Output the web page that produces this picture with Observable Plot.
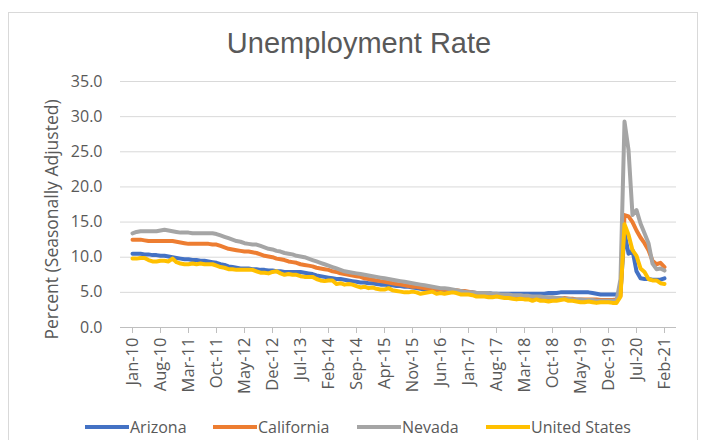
<!DOCTYPE html>
<html>
<head>
<meta charset="utf-8">
<script src="https://cdn.jsdelivr.net/npm/d3@7"></script>
<script src="https://cdn.jsdelivr.net/npm/@observablehq/plot@0.6"></script>
<style>
  body { margin: 0; background: #fff; font-family: "Open Sans", Arial, sans-serif; color: #595959; }
  #wrap { position: relative; width: 702px; height: 440px; overflow: hidden; }
  #frame { position: absolute; left: 8px; top: 12px; width: 690px; height: 440px; border: 1px solid #d9d9d9; box-sizing: border-box; }
  #title { position: absolute; left: 0; width: 718px; top: 29px; line-height: 29px; text-align: center; font-family: "Liberation Sans", Arial, sans-serif; font-size: 29px; color: #595959; }
  #chart { position: absolute; left: 0; top: 60px; }
  .leg { position: absolute; top: 415px; height: 24px; display: flex; align-items: center; font-size: 16px; color: #595959; }
  .leg span.sw { display: inline-block; width: 44px; height: 4px; margin-right: 1px; }
</style>
</head>
<body>
<div id="wrap">
  <div id="frame"></div>
  <div id="title">Unemployment Rate</div>
  <div id="chart"></div>
  <div id="legend"></div>
</div>
<script>
const seriesNames = ["Arizona", "California", "Nevada", "United States"];
const seriesColors = ["#4472C4", "#ED7D31", "#A5A5A5", "#FFC000"];
const yLabel = "Percent (Seasonally Adjusted)";

const tickLabels = ["Jan-10","Aug-10","Mar-11","Oct-11","May-12","Dec-12","Jul-13","Feb-14","Sep-14","Apr-15",
  "Nov-15","Jun-16","Jan-17","Aug-17","Mar-18","Oct-18","May-19","Dec-19","Jul-20","Feb-21"];
const yTicks = [0, 5, 10, 15, 20, 25, 30, 35];

// Months Jan-2010 .. Feb-2021 (category labels)
const months = d3.utcMonth.range(new Date(Date.UTC(2010, 0, 1)), new Date(Date.UTC(2021, 2, 1))).map(d3.utcFormat("%b-%y"));

const arizona = [
  10.5,10.5,10.5,10.4,10.4,10.3,10.3,10.2,10.2,10.1,10.0,9.9,
  9.8,9.7,9.7,9.6,9.6,9.5,9.5,9.4,9.3,9.2,9.0,8.9,
  8.7,8.6,8.5,8.4,8.4,8.4,8.3,8.3,8.2,8.2,8.1,8.1,
  8.0,8.0,7.9,7.9,7.9,7.9,7.9,7.8,7.7,7.6,7.4,7.3,
  7.2,7.1,7.0,6.9,6.9,6.8,6.7,6.6,6.5,6.4,6.4,6.3,
  6.3,6.2,6.1,6.1,6.0,6.0,5.9,5.9,5.8,5.8,5.7,5.6,
  5.5,5.4,5.3,5.3,5.2,5.2,5.2,5.1,5.1,5.0,5.0,5.0,
  5.0,5.0,4.9,4.9,4.9,4.9,4.8,4.8,4.8,4.8,4.8,4.8,
  4.8,4.8,4.8,4.8,4.8,4.8,4.8,4.8,4.9,4.9,4.9,5.0,
  5.0,5.0,5.0,5.0,5.0,5.0,5.0,4.9,4.8,4.7,4.7,4.7,
  4.7,4.7,5.0,13.5,10.5,11.0,8.0,7.0,6.9,6.9,6.8,6.8,
  6.8,7.0
];
const california = [
  12.5,12.5,12.5,12.4,12.3,12.3,12.3,12.3,12.3,12.3,12.3,12.2,
  12.1,12.0,11.9,11.9,11.9,11.9,11.9,11.9,11.8,11.8,11.6,11.4,
  11.2,11.1,11.0,10.9,10.8,10.8,10.7,10.6,10.4,10.2,10.1,10.0,
  9.8,9.7,9.6,9.4,9.3,9.2,9.0,8.9,8.8,8.7,8.5,8.4,
  8.3,8.2,8.0,7.9,7.7,7.6,7.5,7.4,7.3,7.2,7.0,6.9,
  6.8,6.7,6.6,6.5,6.4,6.3,6.2,6.1,6.0,5.9,5.8,5.8,
  5.7,5.6,5.5,5.5,5.4,5.4,5.4,5.3,5.3,5.3,5.2,5.2,
  5.1,5.0,4.9,4.8,4.8,4.7,4.6,4.6,4.5,4.5,4.4,4.4,
  4.3,4.3,4.3,4.2,4.2,4.2,4.2,4.1,4.1,4.1,4.1,4.1,
  4.2,4.1,4.1,4.0,4.0,4.0,4.0,4.0,4.0,3.9,3.9,3.9,
  3.9,4.0,4.5,16.0,15.8,15.0,13.8,12.8,12.0,11.0,9.5,9.0,
  9.2,8.6
];
const nevada = [
  13.4,13.6,13.7,13.7,13.7,13.7,13.7,13.8,13.9,13.8,13.7,13.6,
  13.5,13.5,13.5,13.4,13.4,13.4,13.4,13.4,13.4,13.3,13.1,12.9,
  12.7,12.5,12.3,12.2,12.0,11.9,11.8,11.8,11.6,11.4,11.2,11.1,
  10.9,10.8,10.6,10.5,10.4,10.2,10.1,10.0,9.8,9.6,9.4,9.2,
  9.0,8.8,8.6,8.4,8.2,8.0,7.9,7.8,7.7,7.6,7.5,7.4,
  7.3,7.2,7.1,7.0,6.9,6.8,6.7,6.6,6.5,6.4,6.3,6.2,
  6.1,6.0,5.9,5.8,5.7,5.6,5.6,5.5,5.4,5.3,5.2,5.1,
  5.0,5.0,4.9,4.9,4.9,4.9,4.8,4.8,4.7,4.7,4.7,4.6,
  4.6,4.6,4.5,4.5,4.4,4.4,4.4,4.3,4.3,4.3,4.2,4.2,
  4.1,4.1,4.0,4.0,4.0,3.9,3.9,3.9,3.8,3.8,3.8,3.8,
  3.8,3.8,6.9,29.3,25.3,16.0,16.7,14.8,13.4,12.0,9.1,8.3,
  8.4,8.1
];
const unitedStates = [
  9.8,9.8,9.9,9.9,9.6,9.4,9.4,9.5,9.5,9.4,9.8,9.3,
  9.1,9.0,9.0,9.1,9.0,9.1,9.0,9.0,9.0,8.8,8.6,8.5,
  8.3,8.3,8.2,8.2,8.2,8.2,8.2,8.0,7.8,7.8,7.7,7.9,
  8.0,7.7,7.5,7.6,7.5,7.5,7.3,7.2,7.2,7.2,6.9,6.7,
  6.6,6.7,6.7,6.2,6.3,6.1,6.2,6.1,5.9,5.7,5.8,5.6,
  5.7,5.5,5.4,5.4,5.6,5.3,5.2,5.1,5.0,5.0,5.1,5.0,
  4.8,4.9,5.0,5.1,4.8,4.9,4.8,4.9,5.0,4.9,4.7,4.7,
  4.7,4.6,4.4,4.4,4.4,4.3,4.3,4.4,4.3,4.2,4.2,4.1,
  4.0,4.1,4.0,4.0,3.8,4.0,3.8,3.8,3.7,3.8,3.8,3.9,
  4.0,3.8,3.8,3.7,3.6,3.6,3.7,3.6,3.5,3.6,3.6,3.6,
  3.5,3.5,4.4,14.7,13.2,11.0,10.2,8.4,7.9,6.9,6.7,6.7,
  6.3,6.2
];

const seriesValues = [arizona, california, nevada, unitedStates];
const data = seriesNames.flatMap((name, s) =>
  seriesValues[s].map((v, i) => ({series: name, month: months[i], value: v})));

const chart = Plot.plot({
  width: 702,
  height: 350,
  marginTop: 21,
  marginBottom: 83,
  marginLeft: 120,
  marginRight: 26,
  style: {fontFamily: "'Open Sans', Arial, sans-serif", fontSize: "16px", color: "#595959", background: "transparent"},
  x: {type: "point", domain: months, padding: 0},
  y: {domain: [0, 35]},
  color: {domain: seriesNames, range: seriesColors},
  marks: [
    Plot.gridY(yTicks, {stroke: "#d9d9d9", strokeOpacity: 1, strokeWidth: 1}),
    Plot.axisY(yTicks, {tickSize: 0, tickPadding: 18, tickFormat: d => d.toFixed(1), fontSize: 16, label: null}),
    Plot.text([yLabel], {text: d => d, frameAnchor: "left", rotate: -90, dx: -68.5, dy: 15,
      textAnchor: "middle", lineAnchor: "middle", lineWidth: 1000, fontSize: 17.5, fill: "#595959"}),
    Plot.ruleY([0], {stroke: "#bfbfbf"}),
    Plot.axisX(tickLabels, {tickRotate: -90, tickSize: 6, tickPadding: 4, stroke: "#bfbfbf", fontSize: 16.5, label: null}),
    Plot.lineY(data, {x: "month", y: "value", z: "series", stroke: "series", strokeWidth: 4,
      strokeLinejoin: "round", strokeLinecap: "round"})
  ]
});
document.getElementById("chart").appendChild(chart);

const legendLefts = [85, 213, 357, 486];
const legend = document.getElementById("legend");
seriesNames.forEach((name, i) => {
  const item = document.createElement("div");
  item.className = "leg";
  item.style.left = legendLefts[i] + "px";
  item.innerHTML = `<span class="sw" style="background:${seriesColors[i]}"></span><span>${name}</span>`;
  legend.appendChild(item);
});
</script>
</body>
</html>
